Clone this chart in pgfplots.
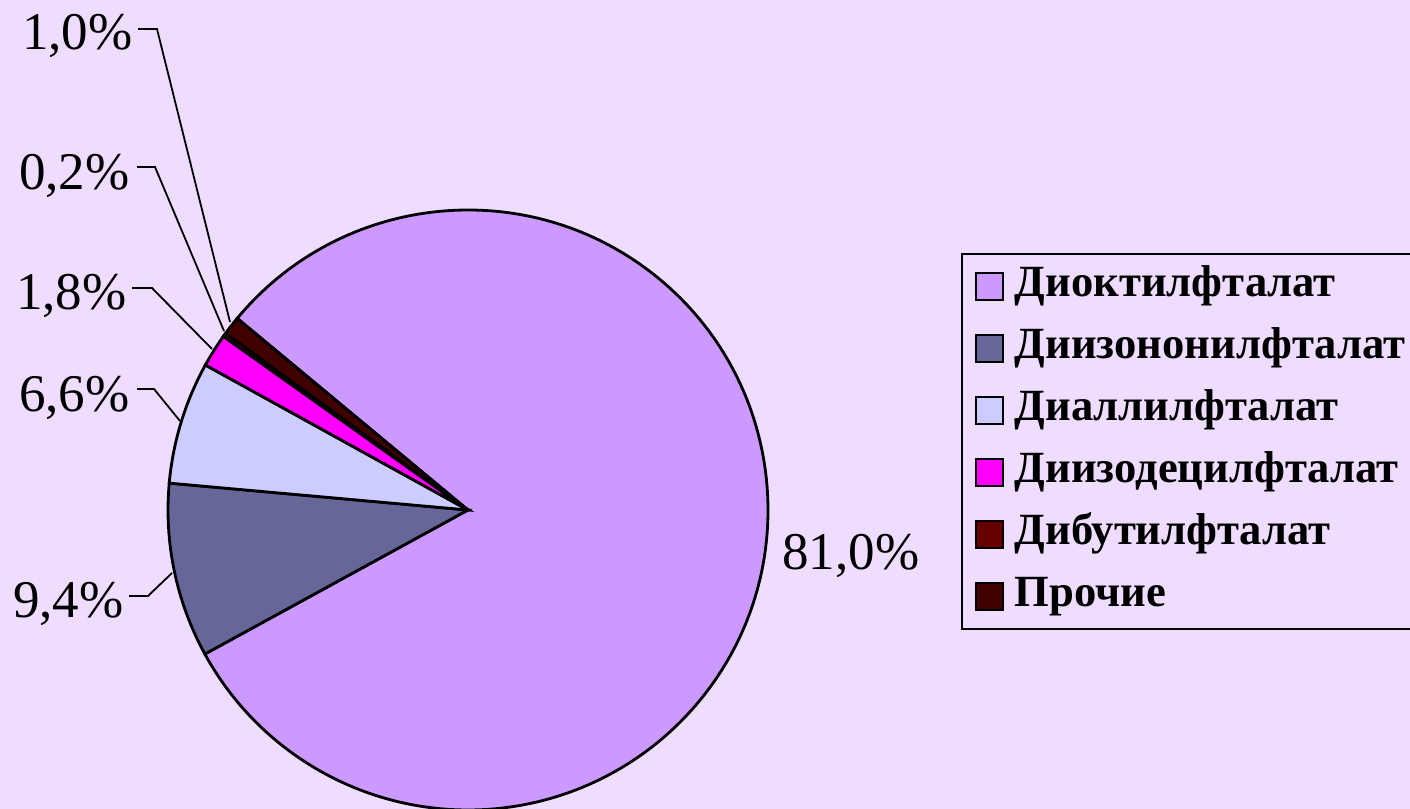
\documentclass[border=0pt]{standalone}
\usepackage{pgfplots}
\pgfplotsset{compat=1.18}
\usepackage{fontspec}
\setmainfont{Liberation Serif}
\definecolor{bg}{HTML}{EEDDFF}
\definecolor{c1}{HTML}{CC99FF}
\definecolor{c2}{HTML}{666699}
\definecolor{c3}{HTML}{CCCCFF}
\definecolor{c4}{HTML}{FF00FF}
\definecolor{c5}{HTML}{660000}
\definecolor{c6}{HTML}{400000}
\begin{document}
\begin{tikzpicture}
\useasboundingbox (0,0) rectangle (705pt,404.5pt);
\clip (0,0) rectangle (705pt,404.5pt);
\fill[bg] (0,0) rectangle (705pt,404.5pt);
\begin{axis}[at={(0,0)}, anchor=origin, scale only axis,
  width=705pt, height=404.5pt, xmin=0, xmax=1410, ymin=0, ymax=809,
  hide axis, clip=false,
  legend cell align=left,
  legend style={at={(axis cs:961,556)}, anchor=north west, draw=black,
    line width=1pt, fill=bg, font=\fontsize{22.3}{26}\selectfont\bfseries,
    inner xsep=6.5pt, inner ysep=6.2pt, row sep=11pt, column sep=5.6pt,
    nodes={inner sep=0pt, text height=15pt, text depth=5pt}},
  legend image code/.code={\draw[#1, draw=black, line width=0.8pt] (0pt,-6.75pt) rectangle (13.5pt,6.75pt);},
  every axis plot/.append style={draw=black, line width=1.4pt}
]
% slices: percentages 81.0, 9.4, 6.6, 1.8, 0.2, 1.0 (clockwise from 140.3 deg)
\addplot[fill=c1] coordinates {(468,299)} -- ++(140.3:150pt) arc[start angle=140.3, delta angle=-3.6*81.0, radius=150pt] -- cycle;
\addlegendentry{Диоктилфталат}
\addplot[fill=c2] coordinates {(468,299)} -- ++(-151.3:150pt) arc[start angle=-151.3, delta angle=-3.6*9.4, radius=150pt] -- cycle;
\addlegendentry{Диизононилфталат}
\addplot[fill=c3] coordinates {(468,299)} -- ++(-185.14:150pt) arc[start angle=-185.14, delta angle=-3.6*6.6, radius=150pt] -- cycle;
\addlegendentry{Диаллилфталат}
\addplot[fill=c4] coordinates {(468,299)} -- ++(-208.9:150pt) arc[start angle=-208.9, delta angle=-3.6*1.8, radius=150pt] -- cycle;
\addlegendentry{Диизодецилфталат}
\addplot[fill=c5] coordinates {(468,299)} -- ++(-215.38:150pt) arc[start angle=-215.38, delta angle=-3.6*0.2, radius=150pt] -- cycle;
\addlegendentry{Дибутилфталат}
\addplot[fill=c6] coordinates {(468,299)} -- ++(-216.1:150pt) arc[start angle=-216.1, delta angle=-3.6*1.0, radius=150pt] -- cycle;
\addlegendentry{Прочие}
% leader lines
\draw[line width=0.9pt] (axis cs:138,780) -- (axis cs:157,780) -- (axis cs:230,487);
\draw[line width=0.9pt] (axis cs:137,642) -- (axis cs:155,642) -- (axis cs:224,478);
\draw[line width=0.9pt] (axis cs:132,521) -- (axis cs:152,521) -- (axis cs:212,460);
\draw[line width=0.9pt] (axis cs:137,420) -- (axis cs:154,420) -- (axis cs:180,388);
\draw[line width=0.9pt] (axis cs:129,213) -- (axis cs:148,213) -- (axis cs:172,236);
% labels
\begin{scope}[every node/.style={inner sep=0pt, font=\fontsize{26.5}{30}\selectfont}]
\node[anchor=base east] at (axis cs:133,759) {1,0\%};
\node[anchor=base east] at (axis cs:130,619) {0,2\%};
\node[anchor=base east] at (axis cs:127,499) {1,8\%};
\node[anchor=base east] at (axis cs:130,397) {6,6\%};
\node[anchor=base east] at (axis cs:124,191) {9,4\%};
\node[anchor=base west] at (axis cs:782,239) {81,0\%};
\end{scope}
\end{axis}
\end{tikzpicture}
\end{document}
